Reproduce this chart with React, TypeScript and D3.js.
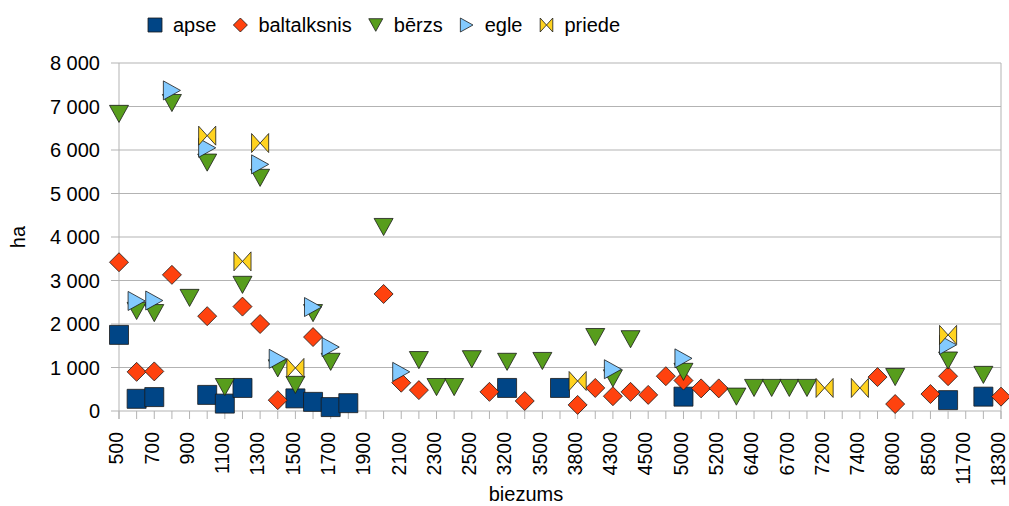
import React, { useEffect, useRef } from "react";
import * as d3 from "d3";

// categories (biezums) - only every other one gets a label
const categories = [
  "500", "600", "700", "800", "900", "1000", "1100", "1200", "1300", "1400",
  "1500", "1600", "1700", "1800", "1900", "2000", "2100", "2200", "2300", "2400",
  "2500", "2800", "3200", "3300", "3500", "3700", "3800", "4000", "4300", "4400",
  "4500", "4800", "5000", "5100", "5200", "6000", "6400", "6500", "6700", "7000",
  "7200", "7300", "7400", "7800", "8000", "8200", "8500", "9000", "11700", "12000",
  "18300",
];

const seriesNames = ["apse", "baltalksnis", "bērzs", "egle", "priede"];
const seriesColors = ["#004586", "#ff420e", "#579d1c", "#83caff", "#ffd320"];
const yTicks = [0, 1000, 2000, 3000, 4000, 5000, 6000, 7000, 8000];

type V = number | null;
const _ = null;

const apse: V[] = [
  1750, 280, 320, _, _, 370, 170, 530, _, _,
  290, 210, 90, 180, _, _, _, _, _, _,
  _, _, 530, _, _, 530, _, _, _, _,
  _, _, 330, _, _, _, _, _, _, _,
  _, _, _, _, _, _, _, 250, _, 330,
  _,
];
const baltalksnis: V[] = [
  3420, 900, 910, 3130, _, 2180, _, 2400, 2000, 250,
  _, 1700, _, _, _, 2690, 650, 480, _, _,
  _, 440, _, 230, _, _, 140, 530, 340, 440,
  370, 800, 700, 520, 520, _, _, _, _, _,
  _, _, _, 780, 160, _, 390, 800, _, _,
  330,
];
const berzs: V[] = [
  6830, 2300, 2250, 7080, 2600, 5710, 550, 2900, 5360, 980,
  600, 2250, 1130, _, _, 4230, _, 1170, 550, 550,
  1190, _, 1130, _, 1150, _, _, 1700, 750, 1650,
  _, _, 900, _, _, 330, 530, 530, 530, 530,
  _, _, _, _, 780, _, _, 1160, _, 830,
  _,
];
const egle: V[] = [
  _, 2530, 2540, 7370, _, 6050, _, _, 5670, 1200,
  _, 2390, 1470, _, _, _, 900, _, _, _,
  _, _, _, _, _, _, _, _, 960, _,
  _, _, 1210, _, _, _, _, _, _, _,
  _, _, _, _, _, _, _, 1520, _, _,
  _,
];
const priede: V[] = [
  _, _, _, _, _, 6330, _, 3440, 6160, _,
  990, _, _, _, _, _, _, _, _, _,
  _, _, _, _, _, _, 690, _, _, _,
  _, _, _, _, _, _, _, _, _, _,
  530, _, 530, _, _, _, _, 1750, _, _,
  _,
];

const seriesValues = [apse, baltalksnis, berzs, egle, priede];

function markerPath(kind: number, r: number): string {
  switch (kind) {
    case 0: // square
      return `M${-r},${-r}H${r}V${r}H${-r}Z`;
    case 1: // diamond
      return `M0,${-r}L${r},0L0,${r}L${-r},0Z`;
    case 2: // down triangle
      return `M${-r},${-r * 0.9}L${r},${-r * 0.9}L0,${r * 0.9}Z`;
    case 3: // right triangle
      return `M${-r * 0.9},${-r}L${r * 0.9},0L${-r * 0.9},${r}Z`;
    default: // bowtie
      return `M${-r * 0.9},${-r}L0,0L${-r * 0.9},${r}ZM${r * 0.9},${-r}L0,0L${r * 0.9},${r}Z`;
  }
}

export default function App() {
  const ref = useRef<SVGSVGElement>(null);

  useEffect(() => {
    const svg = d3.select(ref.current);
    svg.selectAll("*").remove();

    const font = "'Liberation Sans', Arial, sans-serif";
    const left = 119, right = 1001, top = 63, bottom = 411;
    const grid = "#b3b3b3";

    const x = d3.scalePoint<string>().domain(categories).range([left, right]);
    const y = d3.scaleLinear().domain([0, 8000]).range([bottom, top]);

    // horizontal gridlines + y ticks
    svg.append("g")
      .selectAll("line")
      .data(yTicks)
      .enter()
      .append("line")
      .attr("x1", left - 8)
      .attr("x2", right)
      .attr("y1", (d) => y(d))
      .attr("y2", (d) => y(d))
      .attr("stroke", grid)
      .attr("stroke-width", 1);

    // axis lines
    svg.append("line").attr("x1", left).attr("x2", left).attr("y1", top).attr("y2", bottom + 8)
      .attr("stroke", grid);
    svg.append("line").attr("x1", right).attr("x2", right).attr("y1", top).attr("y2", bottom + 8)
      .attr("stroke", grid);

    // x ticks at every category
    svg.append("g")
      .selectAll("line")
      .data(categories)
      .enter()
      .append("line")
      .attr("x1", (d) => x(d)!)
      .attr("x2", (d) => x(d)!)
      .attr("y1", bottom)
      .attr("y2", bottom + 8)
      .attr("stroke", grid);

    // y tick labels
    const fmt = (v: number) => d3.format(",")(v).replace(/,/g, " ");
    svg.append("g")
      .selectAll("text")
      .data(yTicks)
      .enter()
      .append("text")
      .attr("x", 100)
      .attr("y", (d) => y(d))
      .attr("dy", "0.35em")
      .attr("text-anchor", "end")
      .style("font-family", font)
      .style("font-size", "20px")
      .text((d) => fmt(d));

    // x tick labels (every other)
    svg.append("g")
      .selectAll("text")
      .data(categories.filter((_c, i) => i % 2 === 0))
      .enter()
      .append("text")
      .attr("transform", (d) => `translate(${x(d)},${bottom + 21}) rotate(-90)`)
      .attr("dy", "0.22em")
      .attr("text-anchor", "end")
      .style("font-family", font)
      .style("font-size", "19.5px")
      .text((d) => d);

    // axis titles
    svg.append("text")
      .attr("transform", `translate(25,${(top + bottom) / 2}) rotate(-90)`)
      .attr("text-anchor", "middle")
      .style("font-family", font)
      .style("font-size", "20px")
      .text("ha");
    svg.append("text")
      .attr("x", 526)
      .attr("y", 501)
      .attr("text-anchor", "middle")
      .style("font-family", font)
      .style("font-size", "20px")
      .text("biezums");

    // markers
    seriesValues.forEach((vals, s) => {
      svg.append("g")
        .selectAll("path")
        .data(categories.map((c, i) => ({ c, v: vals[i] })).filter((d) => d.v !== null))
        .enter()
        .append("path")
        .attr("transform", (d) => `translate(${x(d.c)},${y(d.v as number)})`)
        .attr("d", markerPath(s, 9.5))
        .attr("fill", seriesColors[s])
        .attr("stroke", "#1a1a1a")
        .attr("stroke-width", 0.8)
        .attr("stroke-linejoin", "miter");
    });

    // legend
    let lx = 148;
    seriesNames.forEach((name, s) => {
      const g = svg.append("g");
      g.append("path")
        .attr("transform", `translate(${lx + 7},25)`)
        .attr("d", markerPath(s, 7))
        .attr("fill", seriesColors[s])
        .attr("stroke", "#1a1a1a")
        .attr("stroke-width", 0.8);
      const t = g.append("text")
        .attr("x", lx + 25)
        .attr("y", 25)
        .attr("dy", "0.35em")
        .style("font-family", font)
        .style("font-size", "20px")
        .text(name);
      const w = (t.node() as SVGTextElement).getComputedTextLength();
      lx = lx + 25 + w + 17;
    });
  }, []);

  return (
    <svg
      ref={ref}
      width={1009}
      height={506}
      style={{ position: "absolute", left: 0, top: 0, background: "#fff" }}
    />
  );
}
